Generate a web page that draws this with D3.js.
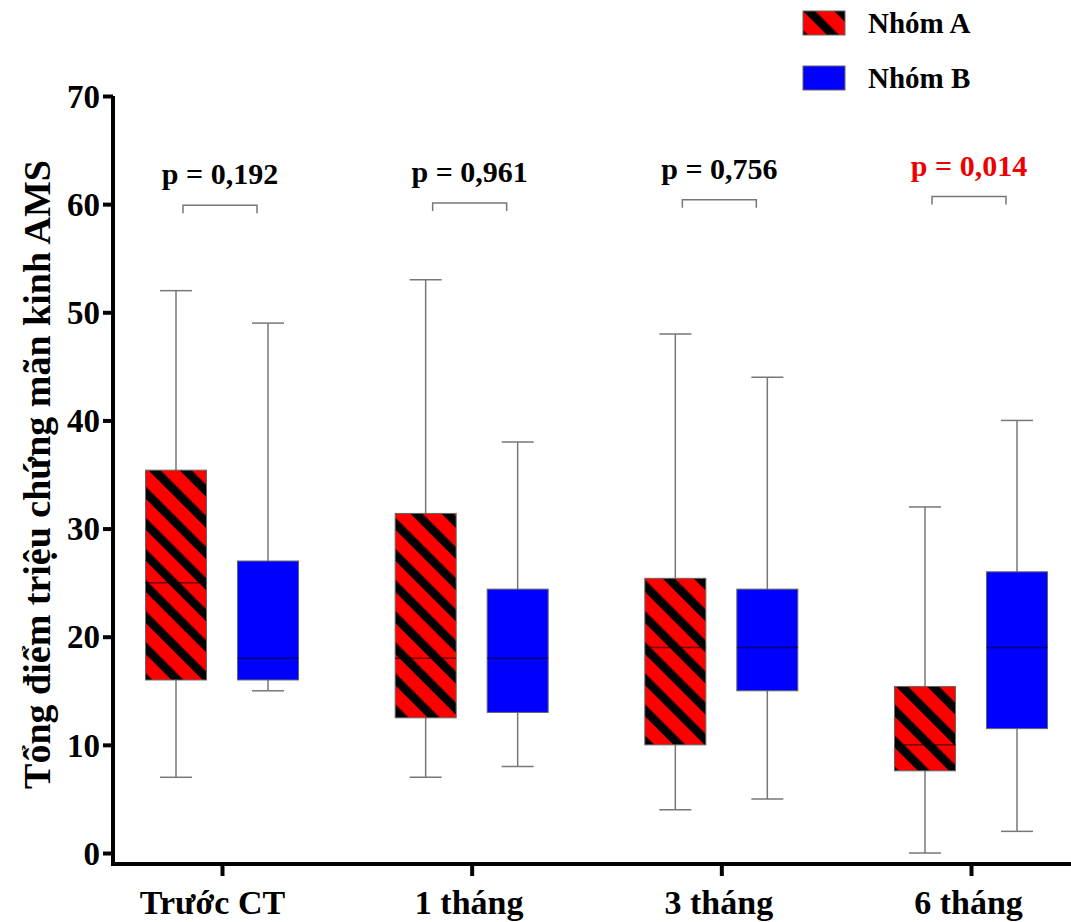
<!DOCTYPE html>
<html>
<head>
  <meta charset="utf-8">
  <title>AMS box plot</title>
  <script src="https://cdnjs.cloudflare.com/ajax/libs/d3/7.8.5/d3.min.js"></script>
<style>
body{
  margin: 0;
  background: white;
}
svg text{
  font-family: "Liberation Serif", "Times New Roman", serif !important;
  font-weight: bold;
  fill: black;
}
.axis path, .axis line{
  stroke: black;
  stroke-width: 4;
}
.whisker{
  stroke: #777;
  stroke-width: 1.5;
}
.box{
  stroke: #666;
  stroke-width: 1;
}
.median{
  stroke: rgba(0,0,0,0.55);
  stroke-width: 1.5;
}
.bracket{
  fill: none;
  stroke: #777;
  stroke-width: 1.5;
}
</style>
</head>
<body>
<div id="chart"></div>
<script>
// values
var categories = ["Trước CT", "1 tháng", "3 tháng", "6 tháng"];
var groups = ["Nhóm A", "Nhóm B"];

var minA = [7, 7, 4, 0];
var q1A = [16, 12.5, 10, 7.6];
var medA = [25, 18, 19, 10];
var q3A = [35.4, 31.4, 25.4, 15.4];
var maxA = [52, 53, 48, 32];

var minB = [15, 8, 5, 2];
var q1B = [16, 13, 15, 11.5];
var medB = [18, 18, 19, 19];
var q3B = [27, 24.4, 24.4, 26];
var maxB = [49, 38, 44, 40];

var pValues = ["p = 0,192", "p = 0,961", "p = 0,756", "p = 0,014"];
var pSignificant = [false, false, false, true];
var bracketLevels = [59.9, 60.1, 60.4, 60.7];

var yTicks = [0, 10, 20, 30, 40, 50, 60, 70];
var yTitle = "Tổng điểm triệu chứng mãn kinh AMS";

var boxes = [];
categories.forEach(function (c, i) {
  boxes.push({cat: c, grp: groups[0], min: minA[i], q1: q1A[i], med: medA[i], q3: q3A[i], max: maxA[i]});
  boxes.push({cat: c, grp: groups[1], min: minB[i], q1: q1B[i], med: medB[i], q3: q3B[i], max: maxB[i]});
});

var svg = d3.select("#chart")
  .append("svg")
  .attr("width", 1071)
  .attr("height", 922);

// stripe pattern for group A
var defs = svg.append("defs");
var pat = defs.append("pattern")
  .attr("id", "stripes")
  .attr("patternUnits", "userSpaceOnUse")
  .attr("width", 22)
  .attr("height", 22)
  .attr("patternTransform", "rotate(-45)");
pat.append("rect").attr("width", 22).attr("height", 22).attr("fill", "#ff0000");
pat.append("rect").attr("x", 0).attr("width", 8.5).attr("height", 22).attr("fill", "black");

var fills = {"Nhóm A": "url(#stripes)", "Nhóm B": "#0000ff"};

var x = d3.scalePoint()
  .domain(categories)
  .range([222, 971]);

var xIn = d3.scalePoint()
  .domain(groups)
  .range([-46, 46]);

var y = d3.scaleLinear()
  .domain([0, 70])
  .range([853, 96]);

var boxW = 61, capW = 32;

// axes
svg.append("g")
  .attr("class", "axis")
  .attr("transform", "translate(113,0)")
  .attr("font-family", null)
  .call(d3.axisLeft(y).tickValues(yTicks).tickSize(10).tickPadding(3).tickSizeOuter(0))
  .call(g => g.select(".domain").attr("d", "M0," + y(70) + "V866"))
  .selectAll("text")
    .style("font-size", "33px")
    .attr("dy", "0.34em");

svg.append("g")
  .attr("class", "axis")
  .attr("transform", "translate(0,864)")
  .call(d3.axisBottom(x).tickSize(12).tickPadding(8).tickSizeOuter(0))
  .call(g => g.select(".domain").attr("d", "M111,0H1071"))
  .selectAll("text")
    .style("font-size", "34px")
    .attr("dx", (d, i) => i == 0 ? "-10" : "-3")
    .attr("dy", "0.88em");

svg.append("text")
  .attr("transform", "translate(50," + ((y(0) + y(70)) / 2) + ") rotate(-90)")
  .attr("text-anchor", "middle")
  .style("font-size", "38px")
  .text(yTitle);

// boxes
var bg = svg.selectAll(".bx")
  .data(boxes)
  .enter().append("g")
  .attr("class", "bx")
  .attr("transform", d => "translate(" + (x(d.cat) + xIn(d.grp)) + ",0)");

bg.append("line").attr("class", "whisker")
  .attr("x1", 0).attr("x2", 0)
  .attr("y1", d => y(d.min)).attr("y2", d => y(d.max));
bg.append("line").attr("class", "whisker")
  .attr("x1", -capW / 2).attr("x2", capW / 2)
  .attr("y1", d => y(d.min)).attr("y2", d => y(d.min));
bg.append("line").attr("class", "whisker")
  .attr("x1", -capW / 2).attr("x2", capW / 2)
  .attr("y1", d => y(d.max)).attr("y2", d => y(d.max));

bg.append("rect").attr("class", "box")
  .attr("x", -boxW / 2)
  .attr("width", boxW)
  .attr("y", d => y(d.q3))
  .attr("height", d => y(d.q1) - y(d.q3))
  .attr("fill", d => fills[d.grp]);

bg.append("line").attr("class", "median")
  .attr("x1", -boxW / 2).attr("x2", boxW / 2)
  .attr("y1", d => y(d.med)).attr("y2", d => y(d.med));

// p-value brackets
var pg = svg.selectAll(".pv")
  .data(categories)
  .enter().append("g")
  .attr("class", "pv")
  .attr("transform", d => "translate(" + (x(d) - 2) + ",0)");

pg.append("path").attr("class", "bracket")
  .attr("d", (d, i) => {
    var yy = y(bracketLevels[i]);
    return "M-37," + (yy + 8) + "V" + yy + "H37V" + (yy + 8);
  });

pg.append("text")
  .attr("text-anchor", "middle")
  .attr("y", (d, i) => y(bracketLevels[i]) - 21)
  .style("font-size", "30px")
  .style("fill", (d, i) => pSignificant[i] ? "#ee0000" : "black")
  .text((d, i) => pValues[i]);

// legend
var lg = svg.selectAll(".lg")
  .data(groups)
  .enter().append("g")
  .attr("class", "lg")
  .attr("transform", (d, i) => "translate(803," + (11 + i * 55) + ")");

lg.append("rect")
  .attr("width", 42)
  .attr("height", 24)
  .attr("fill", d => fills[d])
  .attr("stroke", "#666")
  .attr("stroke-width", 1);

lg.append("text")
  .attr("x", 65)
  .attr("y", 22)
  .style("font-size", "29px")
  .text(d => d);
</script>
</body>
</html>
